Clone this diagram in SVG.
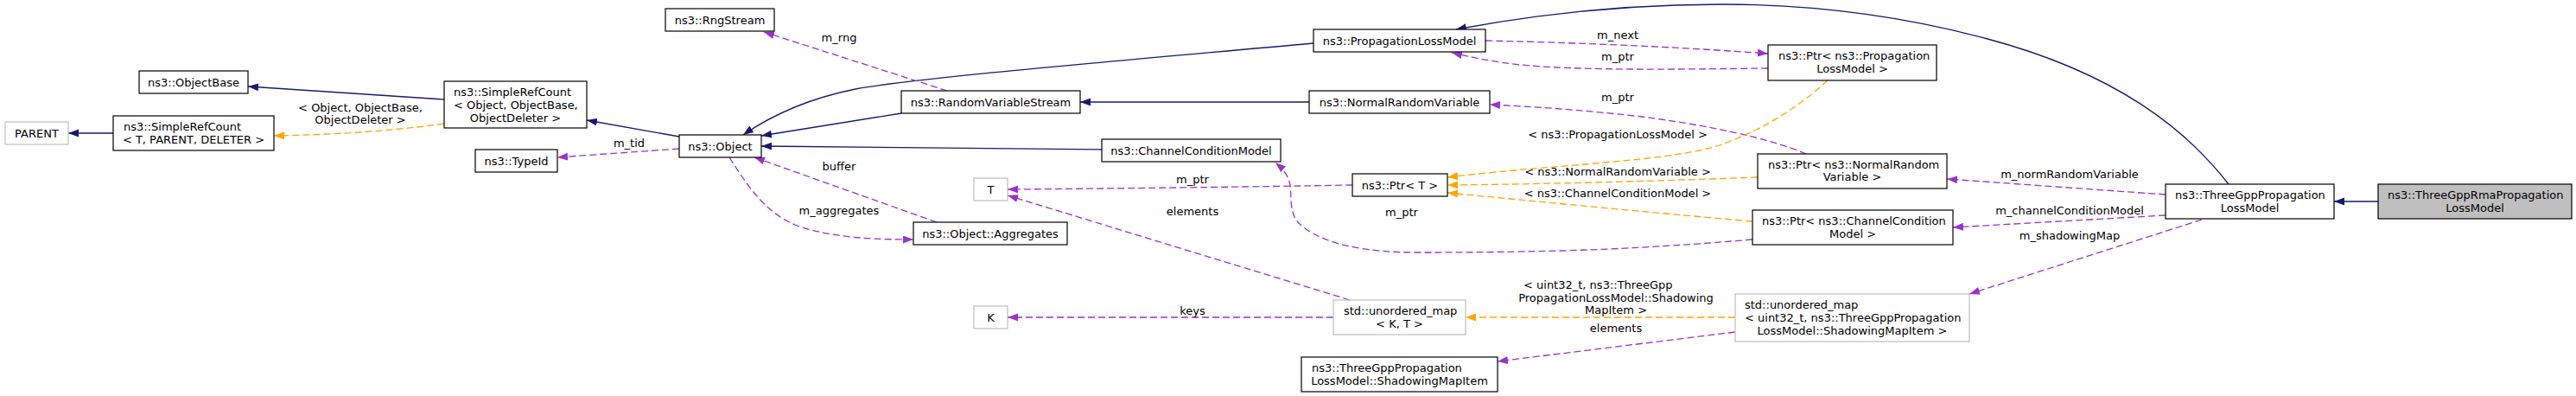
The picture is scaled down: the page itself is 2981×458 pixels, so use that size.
<svg xmlns="http://www.w3.org/2000/svg" width="2981" height="458" viewBox="0 0 2981 458">
<style>
text{font-family:"DejaVu Sans","Liberation Sans",sans-serif;font-size:13px;fill:#000}
.c{text-anchor:middle}
.b{fill:#fff;stroke:#000;stroke-width:1.2}
.g{fill:#fff;stroke:#bfbfbf;stroke-width:1.2}
.h{fill:#bfbfbf;stroke:#000;stroke-width:1.2}
.inh{fill:none;stroke:#191970;stroke-width:1.3;marker-end:url(#aN)}
.use{fill:none;stroke:#9a32cd;stroke-width:1.3;stroke-dasharray:8,4;marker-end:url(#aP)}
.tpl{fill:none;stroke:#ffa500;stroke-width:1.3;stroke-dasharray:8,4;marker-end:url(#aO)}
</style>
<defs>
<marker id="aN" markerUnits="userSpaceOnUse" markerWidth="13" markerHeight="10" refX="12" refY="4.5" orient="auto" viewBox="0 0 13 10"><path d="M0,0 L12,4.5 L0,9 z" fill="#191970"/></marker>
<marker id="aP" markerUnits="userSpaceOnUse" markerWidth="13" markerHeight="10" refX="12" refY="4.5" orient="auto" viewBox="0 0 13 10"><path d="M0,0 L12,4.5 L0,9 z" fill="#9a32cd"/></marker>
<marker id="aO" markerUnits="userSpaceOnUse" markerWidth="13" markerHeight="10" refX="12" refY="4.5" orient="auto" viewBox="0 0 13 10"><path d="M0,0 L12,4.5 L0,9 z" fill="#ffa500"/></marker>
</defs>
<rect width="2981" height="458" fill="#fff"/>
<g id="connectors">
<path class="inh" d="M131,154 L79,154"/>
<path class="inh" d="M514,115 L287,100"/>
<path class="inh" d="M786,158 L679,139"/>
<path class="inh" d="M1043,131 L881,157"/>
<path class="inh" d="M1520,50 C1300,70 1060,90 990,103 C940,113 895,132 860,156"/>
<path class="inh" d="M1275,173 L881,169"/>
<path class="inh" d="M1515,118 L1250,118"/>
<path class="inh" d="M2579,213 C2530,150 2450,85 2300,45 C2200,18 2100,5 1993,5 C1880,5 1770,18 1685,34"/>
<path class="inh" d="M2752,233 L2701,233"/>
<path class="use" d="M786,172 L645,182"/>
<text class="c" x="728" y="170">m_tid</text>
<path class="use" d="M1096,105 L884,37"/>
<text class="c" x="971" y="48">m_rng</text>
<path class="use" d="M1084,257 L873,182"/>
<text class="c" x="971" y="197">buffer</text>
<path class="use" d="M844,182 C865,215 885,245 920,260 C960,275 1010,277 1057,277"/>
<text class="c" x="971" y="248">m_aggregates</text>
<path class="use" d="M1565,214 C1450,216 1300,218 1166,219"/>
<text class="c" x="1380" y="212">m_ptr</text>
<path class="use" d="M1562,347 L1166,226"/>
<text class="c" x="1380" y="249">elements</text>
<path class="use" d="M1543,367 L1166,367"/>
<text class="c" x="1380" y="364">keys</text>
<path class="use" d="M2028,277 C1900,288 1800,292 1640,292 C1560,292 1520,275 1503,258 C1490,245 1496,222 1492,210 C1489,200 1483,194 1476,188"/>
<text class="c" x="1622" y="250">m_ptr</text>
<path class="use" d="M2046,79 C1950,80 1830,82 1760,75 C1730,72 1702,66 1680,61"/>
<text class="c" x="1872" y="70">m_ptr</text>
<path class="use" d="M1719,47 C1850,50 1950,55 2046,62"/>
<text class="c" x="1872" y="45">m_next</text>
<path class="use" d="M2090,178 C2060,165 2000,148 1900,135 C1830,127 1770,123 1724,121"/>
<text class="c" x="1872" y="117">m_ptr</text>
<path class="use" d="M2506,225 L2253,207"/>
<text class="c" x="2395" y="206">m_normRandomVariable</text>
<path class="use" d="M2506,249 L2260,263"/>
<text class="c" x="2395" y="248">m_channelConditionModel</text>
<path class="use" d="M2548,254 L2279,340"/>
<text class="c" x="2395" y="277">m_shadowingMap</text>
<path class="use" d="M2008,384 L1733,418"/>
<text class="c" x="1870" y="384">elements</text>
<path class="tpl" d="M514,143 C450,152 380,156 317,157"/>
<text class="c" x="417" y="129">&lt; Object, ObjectBase,</text>
<text class="c" x="417" y="143">ObjectDeleter &gt;</text>
<path class="tpl" d="M2115,93 C2080,125 2040,150 1990,168 C1930,187 1800,190 1675,205"/>
<text class="c" x="1872" y="160">&lt; ns3::PropagationLossModel &gt;</text>
<path class="tpl" d="M2034,205 C1900,210 1780,213 1675,214"/>
<text class="c" x="1872" y="203">&lt; ns3::NormalRandomVariable &gt;</text>
<path class="tpl" d="M2028,256 C1900,245 1780,233 1675,223"/>
<text class="c" x="1872" y="228">&lt; ns3::ChannelConditionModel &gt;</text>
<path class="tpl" d="M2008,367 L1696,367"/>
<text x="1763" y="334">&lt; uint32_t, ns3::ThreeGpp</text>
<text class="c" x="1870" y="349">PropagationLossModel::Shadowing</text>
<text class="c" x="1870" y="363">MapItem &gt;</text>
</g>
<g id="n_parent"><rect class="g" x="6" y="141" width="73" height="26"/><text class="c" x="42.5" y="158.5">PARENT</text></g>
<g id="n_srcT"><rect class="b" x="131" y="134" width="186" height="40"/><text x="143" y="150.5">ns3::SimpleRefCount</text><text class="c" x="224" y="165.5">&lt; T, PARENT, DELETER &gt;</text></g>
<g id="n_objbase"><rect class="b" x="161" y="82" width="126" height="26"/><text class="c" x="224" y="99.5">ns3::ObjectBase</text></g>
<g id="n_srcO"><rect class="b" x="514" y="94" width="165" height="54"/><text x="525" y="110.5">ns3::SimpleRefCount</text><text x="525" y="125.5">&lt; Object, ObjectBase,</text><text class="c" x="596.5" y="140.5">ObjectDeleter &gt;</text></g>
<g id="n_typeid"><rect class="b" x="550" y="173" width="95" height="26"/><text class="c" x="597.5" y="190.5">ns3::TypeId</text></g>
<g id="n_object"><rect class="b" x="786" y="156" width="95" height="26"/><text class="c" x="833.5" y="173.5">ns3::Object</text></g>
<g id="n_rng"><rect class="b" x="770" y="10" width="126" height="26"/><text class="c" x="833" y="27.5">ns3::RngStream</text></g>
<g id="n_rvs"><rect class="b" x="1043" y="105" width="207" height="26"/><text class="c" x="1146.5" y="122.5">ns3::RandomVariableStream</text></g>
<g id="n_ccm"><rect class="b" x="1275" y="161" width="207" height="26"/><text class="c" x="1378.5" y="178.5">ns3::ChannelConditionModel</text></g>
<g id="n_T"><rect class="g" x="1127" y="206" width="39" height="26"/><text class="c" x="1146.5" y="223.5">T</text></g>
<g id="n_agg"><rect class="b" x="1057" y="257" width="178" height="26"/><text class="c" x="1146" y="274.5">ns3::Object::Aggregates</text></g>
<g id="n_K"><rect class="g" x="1127" y="354" width="39" height="26"/><text class="c" x="1146.5" y="371.5">K</text></g>
<g id="n_plm"><rect class="b" x="1520" y="34" width="199" height="26"/><text class="c" x="1619.5" y="51.5">ns3::PropagationLossModel</text></g>
<g id="n_nrv"><rect class="b" x="1515" y="105" width="209" height="26"/><text class="c" x="1619.5" y="122.5">ns3::NormalRandomVariable</text></g>
<g id="n_ptrT"><rect class="b" x="1565" y="201" width="110" height="26"/><text class="c" x="1620" y="218.5">ns3::Ptr&lt; T &gt;</text></g>
<g id="n_umapKT"><rect class="g" x="1543" y="347" width="153" height="40"/><text x="1555" y="363.5">std::unordered_map</text><text class="c" x="1619.5" y="378.5">&lt; K, T &gt;</text></g>
<g id="n_smi"><rect class="b" x="1506" y="413" width="227" height="40"/><text x="1518" y="429.5">ns3::ThreeGppPropagation</text><text class="c" x="1619.5" y="444.5">LossModel::ShadowingMapItem</text></g>
<g id="n_ptrPLM"><rect class="b" x="2046" y="52" width="195" height="41"/><text x="2058" y="69">ns3::Ptr&lt; ns3::Propagation</text><text class="c" x="2143.5" y="84">LossModel &gt;</text></g>
<g id="n_ptrNRV"><rect class="b" x="2034" y="178" width="219" height="40"/><text x="2046" y="194.5">ns3::Ptr&lt; ns3::NormalRandom</text><text class="c" x="2143.5" y="208.5">Variable &gt;</text></g>
<g id="n_ptrCCM"><rect class="b" x="2028" y="243" width="232" height="40"/><text x="2039" y="259.5">ns3::Ptr&lt; ns3::ChannelCondition</text><text class="c" x="2144" y="274.5">Model &gt;</text></g>
<g id="n_umapU"><rect class="g" x="2008" y="340" width="271" height="55"/><text x="2019" y="356.5">std::unordered_map</text><text x="2019" y="371.5">&lt; uint32_t, ns3::ThreeGppPropagation</text><text class="c" x="2143.5" y="386.5">LossModel::ShadowingMapItem &gt;</text></g>
<g id="n_tgpp"><rect class="b" x="2506" y="213" width="195" height="40"/><text x="2517" y="229.5">ns3::ThreeGppPropagation</text><text class="c" x="2603.5" y="244.5">LossModel</text></g>
<g id="n_rma"><rect class="h" x="2752" y="213" width="224" height="40"/><text x="2763" y="229.5">ns3::ThreeGppRmaPropagation</text><text class="c" x="2864" y="244.5">LossModel</text></g>
</svg>
